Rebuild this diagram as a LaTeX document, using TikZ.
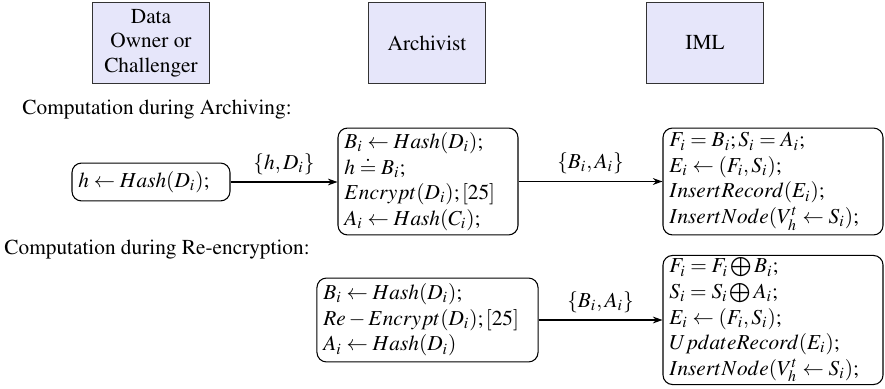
\documentclass[tikz,border=0pt]{standalone}
\usepackage[T1]{fontenc}
\usepackage{mathptmx}
\usetikzlibrary{arrows.meta}
\definecolor{partyfill}{RGB}{230,230,250}
\newcommand\steplines{\rmfamily\fontsize{10}{12}\selectfont}
\newcommand\plaintext{\rmfamily\fontsize{10}{11.5}\selectfont}
\tikzset{
  every node/.style={font=\plaintext},
  party/.style={draw=black!80, fill=partyfill, line width=0.5pt,
    minimum width=54.9pt, minimum height=38pt, align=center, inner sep=2pt},
  calc/.style={draw, rounded corners=4.5pt, line width=0.5pt, align=left,
    inner xsep=3pt, inner ysep=1pt, font=\steplines},
  msg/.style={-{Stealth[length=4.5pt,width=3.2pt]}, line width=0.5pt},
  phase/.style={anchor=west, inner sep=0pt},
}
\begin{document}
\begin{tikzpicture}[x=0.4695pt, y=-0.4695pt]
\useasboundingbox (0,0) rectangle (885,389);

% parties
\node[party] (owner) at (151,43) {Data\\Owner or\\Challenger};
\node[party] (arch)  at (427,43) {Archivist};
\node[party] (iml)   at (705,43) {IML};

% archiving phase
\node[phase] (phA) at (22,110) {Computation during Archiving:};
\node[calc, text width=68.2pt, minimum height=17.8pt] (hbox) at (151,182)
  {$h \leftarrow Hash(D_i);$};
\node[calc, text width=78.5pt, minimum height=50.2pt] (arA) at (428,181.5)
  {$B_i \leftarrow Hash(D_i);$\\
   $h \doteq B_i;$\\
   $Encrypt(D_i);[25]$\\
   $A_i \leftarrow Hash(C_i);$};
\node[calc, text width=97.3pt, minimum height=50.2pt] (imA) at (773,181.5)
  {$F_i = B_i; S_i = A_i;$\\
   $E_i \leftarrow (F_i,S_i);$\\
   $InsertRecord(E_i);$\\
   $InsertNode(V_h^t \leftarrow S_i);$};

\draw[msg] (hbox.east) -- node[above] {$\{h,D_i\}$} (hbox.east -| arA.west);
\draw[msg] (arA.east) -- node[above] {$\{B_i,A_i\}$} (arA.east -| imA.west);

% re-encryption phase
\node[phase] (phR) at (4,250) {Computation during Re-encryption:};
\node[calc, text width=97.8pt, minimum height=39.4pt] (arR) at (427.5,320)
  {$B_i \leftarrow Hash(D_i);$\\
   $Re-Encrypt(D_i);[25]$\\
   $A_i \leftarrow Hash(D_i)$};
\node[calc, text width=97.3pt, minimum height=60.6pt] (imR) at (773,320)
  {$F_i = F_i \bigoplus B_i;$\\
   $S_i = S_i \bigoplus A_i;$\\
   $E_i \leftarrow (F_i,S_i);$\\
   $UpdateRecord(E_i);$\\
   $InsertNode(V_h^t \leftarrow S_i);$};

\draw[msg] (arR.east) -- node[above] {$\{B_i,A_i\}$} (arR.east -| imR.west);
\end{tikzpicture}
\end{document}
